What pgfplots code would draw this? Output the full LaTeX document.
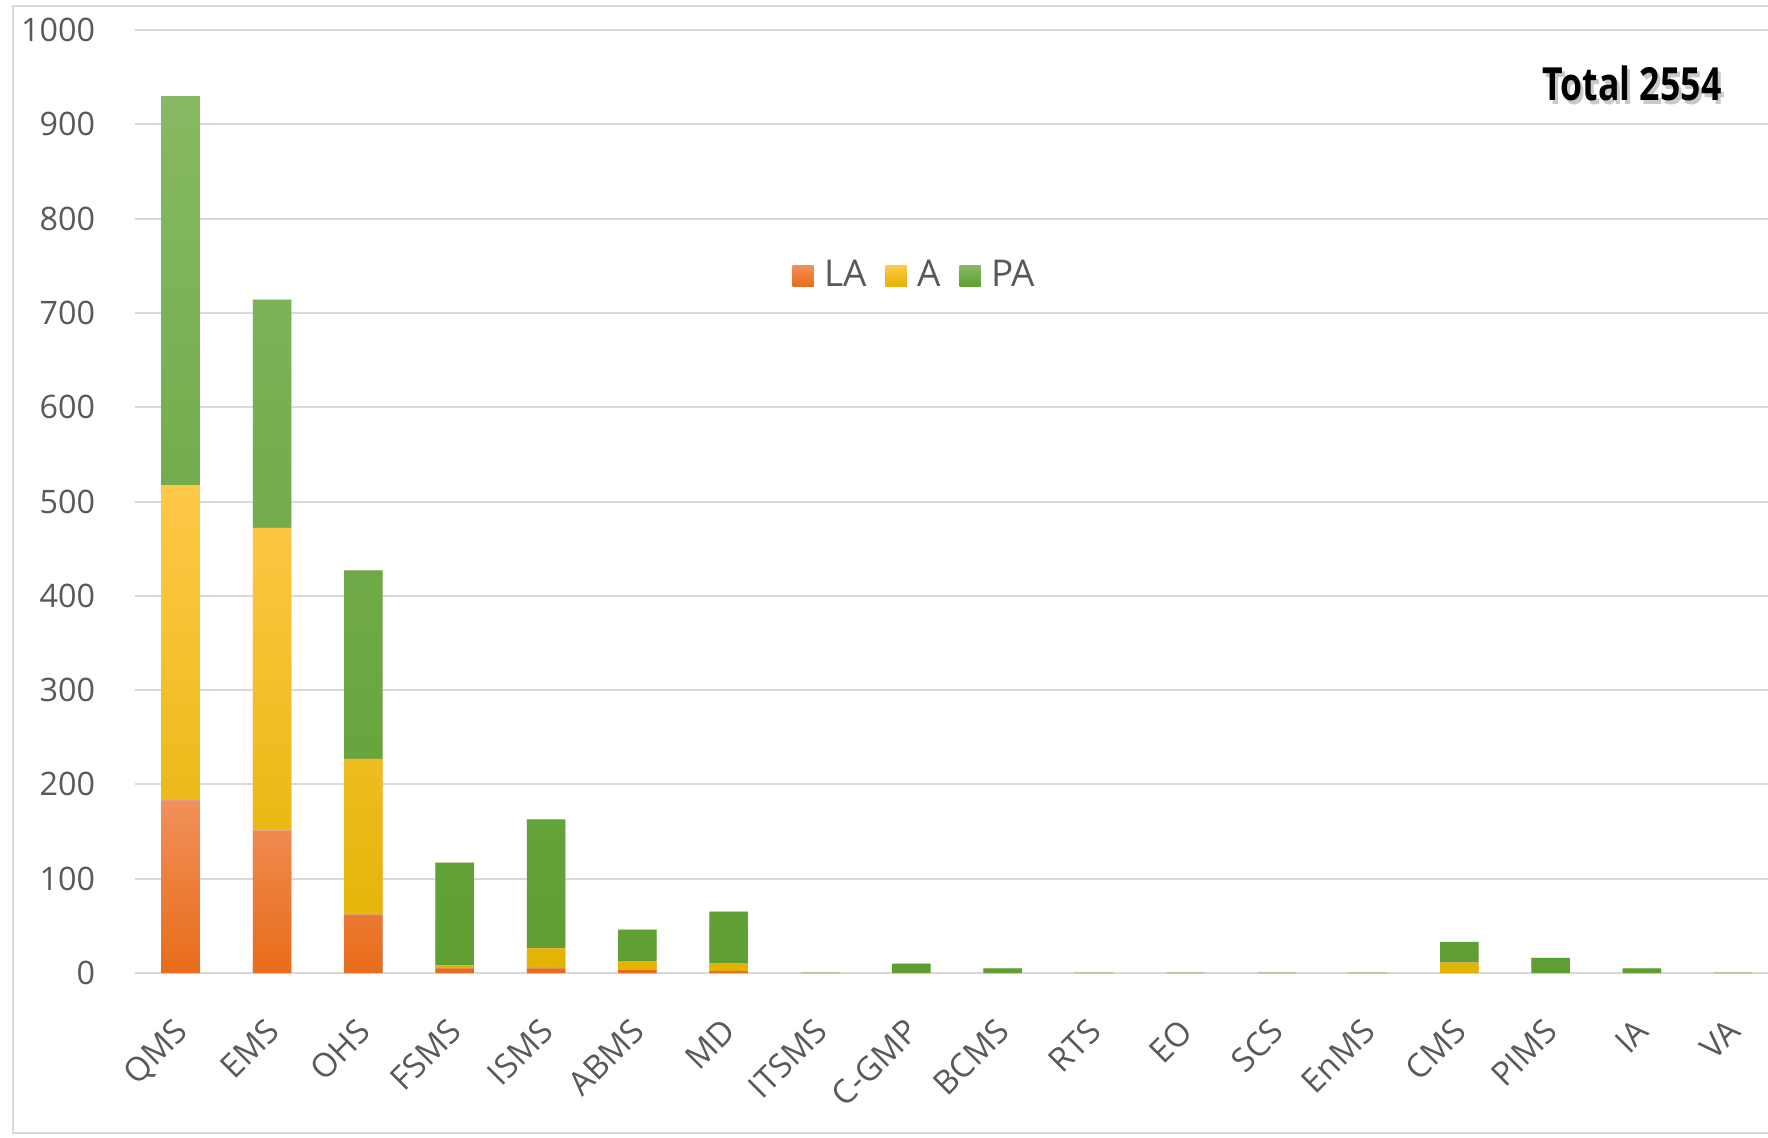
\documentclass[border=0pt]{standalone}
\usepackage{fontspec}
\setmainfont{Open Sans}
\usepackage{graphicx}
\usepackage{pgfplots}
\pgfplotsset{compat=1.18}
\definecolor{tickgray}{HTML}{595959}
\definecolor{gridgray}{HTML}{D9D9D9}
\definecolor{laTop}{HTML}{F19059}
\definecolor{laBot}{HTML}{E86C1A}
\definecolor{aTop}{HTML}{FFC848}
\definecolor{aMid}{HTML}{FFC000}
\definecolor{aBot}{HTML}{E2B300}
\definecolor{paTop}{HTML}{85B963}
\definecolor{paMid}{HTML}{70AD47}
\definecolor{paBot}{HTML}{5E9E32}
\pgfplotstableread{
x LA A PA
0 183 334 413
1 151 321 242
2 62 165 200
3 5 3 109
4 5 21 137
5 3 9 34
6 2 8 55
7 0 0 0.5
8 0 0 10
9 0 0 5
10 0 0 0.5
11 0 0 0.5
12 0 0 0.5
13 0 0 0.5
14 0 11 22
15 0 0 16
16 0 0 5
17 0 0 0.5
}\datatable
\begin{document}
\begin{tikzpicture}[x=1cm,y=1cm]
\useasboundingbox (0,0) rectangle (17.68,11.37);
\fill[white] (0,0) rectangle (17.68,11.37);
\draw[draw=gridgray, line width=0.2mm] (0.135,0.04) rectangle (18,11.31);
\begin{axis}[
  at={(1.35cm,1.64cm)}, anchor=south west,
  scale only axis, width=16.33cm, height=9.43cm,
  ybar stacked, bar width=3.85mm,
  xmin=-0.5, xmax=17.38, ymin=0, ymax=1000,
  ytick={0,100,...,1000},
  xtick={0,...,17},
  xticklabels={QMS,EMS,OHS,FSMS,ISMS,ABMS,MD,ITSMS,C-GMP,BCMS,RTS,EO,SCS,EnMS,CMS,PIMS,IA,VA},
  separate axis lines,
  axis x line*=bottom, axis y line*=left,
  x axis line style={draw=gridgray, line width=0.25mm},
  y axis line style={draw=none},
  tick style={draw=none},
  ymajorgrids, grid style={draw=gridgray, line width=0.2mm},
  /pgf/number format/assume math mode=true,
  /pgf/number format/1000 sep={},
  yticklabel style={font=\fontsize{9.2}{11}\selectfont, text=tickgray, xshift=-7.8pt},
  xticklabel style={font=\fontsize{9.4}{11}\selectfont, text=tickgray, xshift=-0.8mm, yshift=-4.3mm, rotate=45, anchor=north east, inner sep=0pt},
  legend style={at={(0.479,0.739)}, anchor=center, draw=none, fill=none,
    font=\fontsize{10.5}{12}\selectfont, text=tickgray,
    legend columns=3, /tikz/every even column/.append style={column sep=1.2mm}},
  clip=false,
]
\addplot+[draw=none, top color=laTop, bottom color=laBot,
  legend image code/.code={\fill[top color=laTop, bottom color=laBot] (0mm,-1.05mm) rectangle (2.1mm,1.05mm); \path (2.45mm,0);}]
  table[x=x, y=LA] {\datatable};
\addplot+[draw=none, top color=aTop, middle color=aMid, bottom color=aBot,
  legend image code/.code={\fill[top color=aTop, middle color=aMid, bottom color=aBot] (0mm,-1.05mm) rectangle (2.1mm,1.05mm); \path (2.45mm,0);}]
  table[x=x, y=A] {\datatable};
\addplot+[draw=none, top color=paTop, middle color=paMid, bottom color=paBot,
  legend image code/.code={\fill[top color=paTop, middle color=paMid, bottom color=paBot] (0mm,-1.05mm) rectangle (2.1mm,1.05mm); \path (2.45mm,0);}]
  table[x=x, y=PA] {\datatable};
\legend{LA, A, PA}
\end{axis}
\node[text=black!35, opacity=0.6] at (16.35,10.50) {\scalebox{0.78}[1]{\fontsize{13}{15}\selectfont\bfseries Total 2554}};
\node[text=black] at (16.32,10.54) {\scalebox{0.78}[1]{\fontsize{13}{15}\selectfont\bfseries Total 2554}};
\end{tikzpicture}
\end{document}
